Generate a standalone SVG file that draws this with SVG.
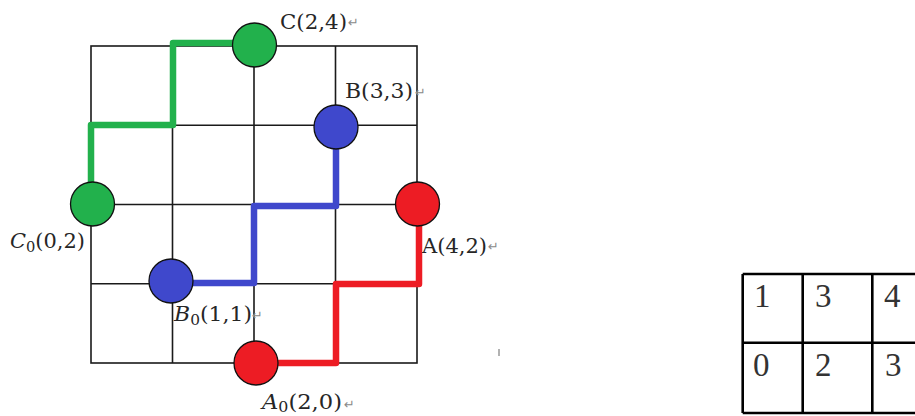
<svg xmlns="http://www.w3.org/2000/svg" width="915" height="416" viewBox="0 0 915 416">
<defs>
<style>
.grid{stroke:#1a1a1a;stroke-width:1.6;fill:none}
.path{fill:none;stroke-width:6.5;stroke-linejoin:round;stroke-linecap:butt}
.g{stroke:#22b14c}.b{stroke:#3f48cc}.r{stroke:#ed1c24}
.dot{stroke:#111;stroke-width:1.3}
.lbl{font-family:"DejaVu Serif","Liberation Serif",serif;font-size:20px;fill:#262626}
.it{font-style:italic}
.sub{font-size:14px}
.pm{font-family:"DejaVu Sans",sans-serif;font-size:13px;fill:#8a8a8a}
.tbl{stroke:#000;stroke-width:2.6;fill:none}
.num{font-family:"Liberation Serif","DejaVu Serif",serif;font-size:33px;fill:#333}
</style>
</defs>
<rect width="915" height="416" fill="#fff"/>
<g id="grid">
<rect class="grid" x="91" y="46" width="326" height="317"/>
<path class="grid" d="M172.5 46V363M254 46V363M335.5 46V363M91 125.2H417M91 204.5H417M91 283.8H417"/>
</g>
<g id="connectors">
<polyline class="path g" points="91,204 91,125 173,125 173,43 254,43"/>
<polyline class="path b" points="171,283 254,283 254,206 336,206 336,127"/>
<polyline class="path r" points="256,363 336,363 336,284 419,284 419,204"/>
</g>
<g id="node-C"><circle class="dot" cx="254.5" cy="45" r="22" fill="#22b14c"/><text class="lbl" x="280" y="29" textLength="67" lengthAdjust="spacingAndGlyphs">C(2,4)</text><text class="pm" x="348" y="27">↵</text></g>
<g id="node-B"><circle class="dot" cx="336" cy="127" r="22" fill="#3f48cc"/><text class="lbl" x="345" y="98" textLength="68" lengthAdjust="spacingAndGlyphs">B(3,3)</text><text class="pm" x="415" y="97">↵</text></g>
<g id="node-C0"><circle class="dot" cx="92.5" cy="204" r="22" fill="#22b14c"/><text class="lbl" x="10" y="248" textLength="75" lengthAdjust="spacingAndGlyphs"><tspan class="it">C</tspan><tspan class="sub" dy="4">0</tspan><tspan dy="-4">(0,2)</tspan></text></g>
<g id="node-A"><circle class="dot" cx="417.5" cy="204" r="22" fill="#ed1c24"/><text class="lbl" x="422" y="253" textLength="65" lengthAdjust="spacingAndGlyphs">A(4,2)</text><text class="pm" x="488" y="251">↵</text></g>
<g id="node-B0"><circle class="dot" cx="171" cy="281" r="22" fill="#3f48cc"/><text class="lbl" x="174" y="321" textLength="78" lengthAdjust="spacingAndGlyphs"><tspan class="it">B</tspan><tspan class="sub" dy="4">0</tspan><tspan dy="-4">(1,1)</tspan></text><text class="pm" x="252" y="320">↵</text></g>
<g id="node-A0"><circle class="dot" cx="256" cy="363" r="22" fill="#ed1c24"/><text class="lbl" x="262" y="409" textLength="80" lengthAdjust="spacingAndGlyphs"><tspan class="it">A</tspan><tspan class="sub" dy="3">0</tspan><tspan dy="-3">(2,0)</tspan></text><text class="pm" x="344" y="409">↵</text></g>
<line x1="499" y1="349" x2="499" y2="356" stroke="#999" stroke-width="1.5"/>
<g id="table">
<path class="tbl" d="M742.7 274H915M742.7 342.7H915M742.7 413H915M742.7 274V413M802.7 274V413M872.3 274V413"/>
<text class="num" x="754" y="307">1</text>
<text class="num" x="815" y="307">3</text>
<text class="num" x="884" y="307">4</text>
<text class="num" x="753" y="376">0</text>
<text class="num" x="815" y="376">2</text>
<text class="num" x="885" y="376">3</text>
</g>
</svg>
